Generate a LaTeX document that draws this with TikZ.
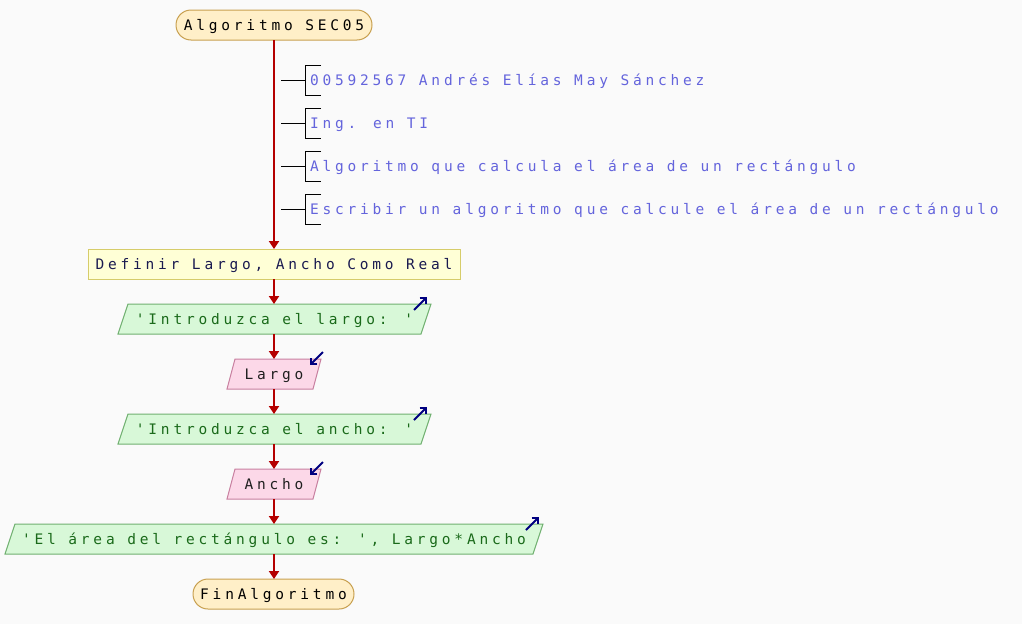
\documentclass[tikz,border=0pt]{standalone}
\usepackage{fontspec}
\usetikzlibrary{arrows.meta,backgrounds}
\newfontfamily\monoff[LetterSpace=26.2]{DejaVu Sans Mono}
\newcommand\mymono{\monoff\fontsize{14.5pt}{16pt}\selectfont}
\definecolor{bgC}{HTML}{FAFAFA}
\definecolor{termF}{HTML}{FFEFC8}
\definecolor{termB}{HTML}{C8A050}
\definecolor{defF}{HTML}{FFFFD6}
\definecolor{defB}{HTML}{D6CC6A}
\definecolor{defT}{HTML}{1A1A50}
\definecolor{outF}{HTML}{D8F8D8}
\definecolor{outB}{HTML}{70B070}
\definecolor{outT}{HTML}{1A6A1A}
\definecolor{inF}{HTML}{FCD8E8}
\definecolor{inB}{HTML}{C880A0}
\definecolor{inT}{HTML}{202020}
\definecolor{flowR}{HTML}{B40000}
\definecolor{cmtT}{HTML}{6464DC}
\definecolor{icoC}{HTML}{000080}
\tikzset{
  base/.style={inner sep=0pt, outer sep=0pt, text height=10pt, text depth=0pt,
    minimum height=30pt, font=\mymono, line width=1pt},
  term/.style={base, draw=termB, fill=termF, rounded corners=15pt, text=black},
  defbox/.style={base, draw=defB, fill=defF, text=defT},
  outnode/.style={base, text=outT},
  innode/.style={base, text=inT},
  flow/.style={draw=flowR, line width=2pt, -{Triangle[length=8pt,width=10pt]}},
  cmt/.style={inner sep=0pt, outer sep=0pt, anchor=base west, font=\mymono, text=cmtT},
  brk/.style={draw=black, line width=1pt},
  ico/.style={draw=icoC, line width=1.9pt, -{Straight Barb[length=4.5pt,width=9pt]}},
  outshape/.style={draw=outB, fill=outF, line width=1pt},
  inshape/.style={draw=inB, fill=inF, line width=1pt}
}
\begin{document}
\begin{tikzpicture}[x=1pt,y=-1pt]
\useasboundingbox (0,0) rectangle (1022,624);
% nodes
\node[term, minimum width=196pt] (start) at (274,25) {Algoritmo SEC05};
\node[cmt] (c1) at (310,85) {00592567 Andrés Elías May Sánchez};
\node[cmt] (c2) at (310,128) {Ing. en TI};
\node[cmt] (c3) at (310,171) {Algoritmo que calcula el área de un rectángulo};
\node[cmt] (c4) at (310,214) {Escribir un algoritmo que calcule el área de un rectángulo};
\node[defbox, minimum width=372pt] (def) at (274,264) {Definir Largo, Ancho Como Real};
\node[outnode, minimum width=303pt] (o1) at (274.5,319) {'Introduzca el largo: '};
\node[innode, minimum width=86pt] (i1) at (274,374) {Largo};
\node[outnode, minimum width=303pt] (o2) at (274.5,429) {'Introduzca el ancho: '};
\node[innode, minimum width=86pt] (i2) at (274,484) {Ancho};
\node[outnode, minimum width=528pt] (o3) at (274,539) {'El área del rectángulo es: ', Largo*Ancho};
\node[term, minimum width=161pt] (fin) at (273.5,594) {FinAlgoritmo};
% background shapes
\begin{scope}[on background layer]
  \fill[bgC] (0,0) rectangle (1022,624);
  \foreach \n in {o1,o2,o3}{
    \path[outshape] ([xshift=5pt]\n.north west) -- ([xshift=5pt]\n.north east)
      -- ([xshift=-5pt]\n.south east) -- ([xshift=-5pt]\n.south west) -- cycle;
  }
  \foreach \n in {i1,i2}{
    \path[inshape] ([xshift=4pt]\n.north west) -- ([xshift=4pt]\n.north east)
      -- ([xshift=-4pt]\n.south east) -- ([xshift=-4pt]\n.south west) -- cycle;
  }
\end{scope}
% flow
\draw[flow] (start.south) -- (start.south |- def.north);
\draw[flow] (def.south) -- (o1.north -| def.south);
\draw[flow] (o1.south -| def.south) -- (i1.north);
\draw[flow] (i1.south) -- (o2.north -| i1.south);
\draw[flow] (o2.south -| i1.south) -- (i2.north);
\draw[flow] (i2.south) -- (o3.north);
\draw[flow] (o3.south) -- (fin.north -| o3.south);
% comment brackets
\foreach \n in {c1,c2,c3,c4}{
  \draw[brk] ([shift={(-29,-5)}]\n.base west) -- ([shift={(-5,-5)}]\n.base west);
  \draw[brk] ([shift={(11,-20)}]\n.base west) -- ([shift={(-5,-20)}]\n.base west)
    -- ([shift={(-5,10)}]\n.base west) -- ([shift={(11,10)}]\n.base west);
}
% io icons
\foreach \n in {o1,o2,o3}{
  \draw[ico] ([shift={(-12,6)}]\n.north east) -- ([shift={(1,-7)}]\n.north east);
}
\foreach \n in {i1,i2}{
  \draw[ico] ([shift={(6,-7)}]\n.north east) -- ([shift={(-7,6)}]\n.north east);
}
\end{tikzpicture}
\end{document}
